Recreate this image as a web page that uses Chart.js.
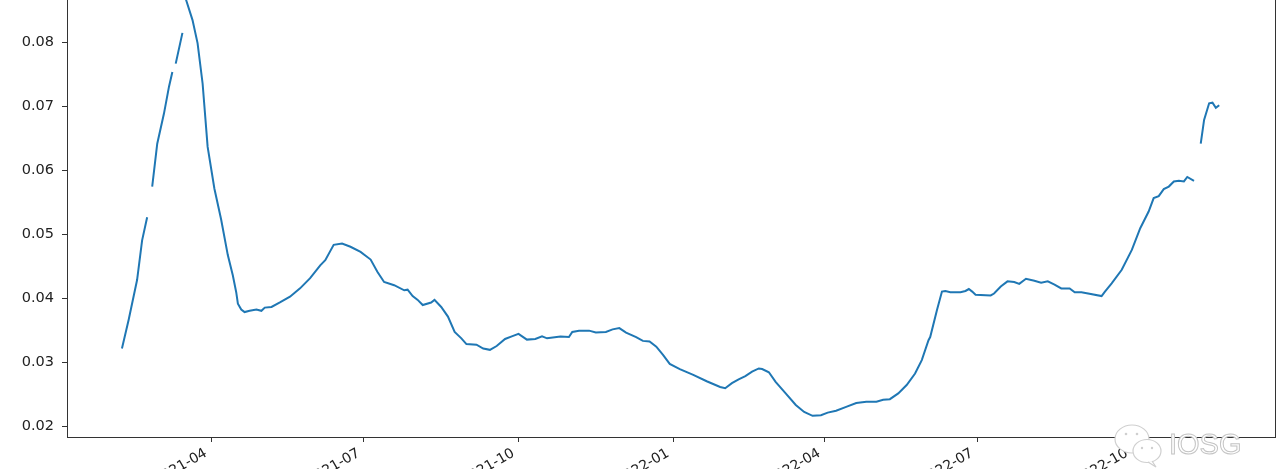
<!DOCTYPE html>
<html>
<head>
<meta charset="utf-8">
<script src="https://cdn.jsdelivr.net/npm/chart.js@4/dist/chart.umd.min.js"></script>
<style>
  html, body { margin: 0; padding: 0; background: #fff; }
  body { width: 1280px; height: 469px; overflow: hidden; position: relative; }
  #wrap { position: absolute; left: 0; top: -10px; width: 1280px; height: 507px; }
  #mark { position: absolute; left: 1112px; top: 424px; width: 130px; height: 45px; pointer-events: none; }
  #mark span {
    position: absolute; left: 57px; top: 4px;
    font-family: "Liberation Sans", sans-serif; font-size: 29px; letter-spacing: 0px;
    color: #fff; -webkit-text-stroke: 1px #c4c4c4;
  }
</style>
</head>
<body>
<div id="wrap"><canvas id="chart"></canvas></div>
<div id="mark">
  <svg width="56" height="45" style="position:absolute;left:0;top:0">
    <ellipse cx="20" cy="15" rx="17" ry="14" fill="#fff" stroke="#cfcfcf" stroke-width="1.2"/>
    <circle cx="14" cy="10" r="1.3" fill="#cfcfcf"/>
    <circle cx="25" cy="10" r="1.3" fill="#cfcfcf"/>
    <ellipse cx="35" cy="27" rx="14" ry="11.5" fill="#fff" stroke="#cfcfcf" stroke-width="1.2"/>
    <path d="M40 37 L44 43 L36 38" fill="#fff" stroke="#cfcfcf" stroke-width="1.2"/>
    <circle cx="30" cy="24" r="1.2" fill="#cfcfcf"/>
    <circle cx="40" cy="24" r="1.2" fill="#cfcfcf"/>
  </svg>
  <span>IOSG</span>
</div>
<script>
// dates and values (null = gap in the series)
const dates = [
  "2021-02-07","2021-02-11","2021-02-16","2021-02-19","2021-02-22","2021-02-24","2021-02-25","2021-02-28",
  "2021-03-04","2021-03-07","2021-03-09","2021-03-10","2021-03-11","2021-03-15","2021-03-16","2021-03-17",
  "2021-03-21","2021-03-24","2021-03-27","2021-03-30","2021-04-03","2021-04-07","2021-04-11","2021-04-14",
  "2021-04-16","2021-04-17","2021-04-19","2021-04-21","2021-04-24","2021-04-28","2021-05-01","2021-05-03",
  "2021-05-07","2021-05-12","2021-05-18","2021-05-24","2021-05-30","2021-06-05","2021-06-08","2021-06-13",
  "2021-06-18","2021-06-23","2021-06-29","2021-07-05","2021-07-09","2021-07-13","2021-07-19","2021-07-25",
  "2021-07-27","2021-07-30","2021-08-02","2021-08-05","2021-08-10","2021-08-12","2021-08-16","2021-08-20",
  "2021-08-24","2021-08-28","2021-08-31","2021-09-06","2021-09-10","2021-09-14","2021-09-18","2021-09-23",
  "2021-09-27","2021-10-01","2021-10-06","2021-10-11","2021-10-15","2021-10-18","2021-10-26","2021-10-31",
  "2021-11-02","2021-11-06","2021-11-12","2021-11-16","2021-11-22","2021-11-26","2021-11-30","2021-12-04",
  "2021-12-10","2021-12-14","2021-12-18","2021-12-22","2021-12-26","2021-12-30","2022-01-05","2022-01-13",
  "2022-01-21","2022-01-29","2022-02-01","2022-02-05","2022-02-09","2022-02-13","2022-02-17","2022-02-21",
  "2022-02-23","2022-02-27","2022-03-03","2022-03-09","2022-03-15","2022-03-20","2022-03-25","2022-03-30",
  "2022-04-03","2022-04-08","2022-04-14","2022-04-20","2022-04-26","2022-05-02","2022-05-06","2022-05-10",
  "2022-05-15","2022-05-20","2022-05-25","2022-05-29","2022-06-02","2022-06-03","2022-06-07","2022-06-10",
  "2022-06-12","2022-06-15","2022-06-21","2022-06-24","2022-06-26","2022-06-28","2022-06-30","2022-07-09",
  "2022-07-11","2022-07-15","2022-07-19","2022-07-23","2022-07-26","2022-07-30","2022-08-04","2022-08-08",
  "2022-08-12","2022-08-16","2022-08-20","2022-08-25","2022-08-28","2022-09-01","2022-09-05","2022-09-13",
  "2022-09-15","2022-09-19","2022-09-25","2022-10-01","2022-10-06","2022-10-11","2022-10-14","2022-10-17",
  "2022-10-20","2022-10-23","2022-10-26","2022-10-29","2022-11-01","2022-11-03","2022-11-07","2022-11-09",
  "2022-11-11","2022-11-13","2022-11-16","2022-11-18","2022-11-20","2022-11-22"
];
const values = [
  0.0322,0.0367,0.0429,0.0491,0.0527,null,0.0575,0.0642,
  0.0689,0.0731,0.0754,null,0.0767,0.0815,null,0.0868,
  0.0835,0.0799,0.0736,0.0637,0.0572,0.0524,0.0468,0.0436,
  0.0410,0.0392,0.0383,0.0379,0.0381,0.0383,0.0381,0.0386,
  0.0387,0.0394,0.0403,0.0416,0.0432,0.0452,0.0460,0.0484,
  0.0486,0.0481,0.0473,0.0461,0.0442,0.0426,0.0421,0.0413,
  0.0414,0.0404,0.0398,0.0390,0.0394,0.0398,0.0387,0.0372,
  0.0348,0.0338,0.0329,0.0328,0.0322,0.0320,0.0326,0.0337,
  0.0341,0.0345,0.0336,0.0337,0.0341,0.0338,0.0341,0.0340,
  0.0348,0.0350,0.0350,0.0347,0.0348,0.0352,0.0354,0.0347,
  0.0340,0.0334,0.0333,0.0325,0.0312,0.0298,0.0290,0.0281,
  0.0271,0.0262,0.0260,0.0268,0.0274,0.0279,0.0286,0.0291,
  0.0290,0.0285,0.0270,0.0252,0.0234,0.0223,0.0217,0.0218,
  0.0222,0.0225,0.0231,0.0237,0.0239,0.0239,0.0242,0.0243,
  0.0252,0.0265,0.0283,0.0304,0.0335,0.0340,0.0382,0.0411,
  0.0412,0.0410,0.0410,0.0412,0.0415,0.0411,0.0406,0.0405,
  0.0408,0.0419,0.0427,0.0426,0.0423,0.0431,0.0428,0.0425,
  0.0427,0.0422,0.0416,0.0416,0.0410,0.0410,0.0408,0.0404,
  0.0411,0.0424,0.0445,0.0476,0.0510,0.0536,0.0557,0.0560,
  0.0571,0.0575,0.0583,0.0584,0.0583,0.0590,0.0584,null,
  0.0642,0.0679,0.0705,0.0706,0.0698,0.0702
];
const tickLabels = ["2021-04","2021-07","2021-10","2022-01","2022-04","2022-07","2022-10"];
const yTicks = [0.02, 0.03, 0.04, 0.05, 0.06, 0.07, 0.08];

const t0 = Date.UTC(2021, 0, 1);
function dayNum(s) {
  const p = s.split("-").map(Number);
  return (Date.UTC(p[0], p[1] - 1, p[2] || 1) - t0) / 86400000;
}

const points = dates.map((d, i) => ({ x: dayNum(d), y: values[i] }));
const tickDays = tickLabels.map(dayNum);

const frame = {
  id: "frame",
  afterDraw(chart) {
    const { ctx, chartArea: a } = chart;
    ctx.save();
    ctx.strokeStyle = "#333";
    ctx.lineWidth = 1;
    ctx.strokeRect(Math.round(a.left) + 0.5, Math.round(a.top) + 0.5, Math.round(a.right - a.left), Math.round(a.bottom - a.top));
    ctx.restore();
  }
};

Chart.defaults.font.family = "'DejaVu Sans', sans-serif";
Chart.defaults.color = "#222";

new Chart(document.getElementById("chart"), {
  type: "line",
  data: {
    datasets: [{
      data: points,
      borderColor: "#1f77b4",
      borderWidth: 2,
      pointRadius: 0,
      tension: 0,
      spanGaps: false,
      fill: false
    }]
  },
  options: {
    responsive: true,
    maintainAspectRatio: false,
    animation: false,
    layout: { padding: { left: 0, right: 5, top: 0, bottom: 0 } },
    plugins: { legend: { display: false }, tooltip: { enabled: false } },
    scales: {
      x: {
        type: "linear",
        min: 4.3,
        max: 723.2,
        afterFit: (s) => { s.height = 60; s.paddingLeft = 0; s.paddingRight = 0; },
        afterBuildTicks: (s) => { s.ticks = tickDays.map((v) => ({ value: v })); },
        grid: { display: true, drawOnChartArea: false, drawTicks: true, tickLength: 5, tickColor: "#333" },
        border: { display: true, color: "#333" },
        ticks: {
          autoSkip: false,
          minRotation: 30,
          maxRotation: 30,
          padding: 3,
          labelOffset: -5,
          font: { size: 14 },
          callback: (v, i) => tickLabels[i]
        }
      },
      y: {
        min: 0.01839,
        max: 0.0882,
        afterFit: (s) => { s.width = 67; s.paddingTop = 0; s.paddingBottom = 0; },
        afterBuildTicks: (s) => { s.ticks = yTicks.map((v) => ({ value: v })); },
        grid: { display: true, drawOnChartArea: false, drawTicks: true, tickLength: 5, tickColor: "#333" },
        border: { display: true, color: "#333" },
        ticks: {
          padding: 8,
          font: { size: 14.5 },
          callback: (v) => v.toFixed(2)
        }
      }
    }
  },
  plugins: [frame]
});
</script>
</body>
</html>
